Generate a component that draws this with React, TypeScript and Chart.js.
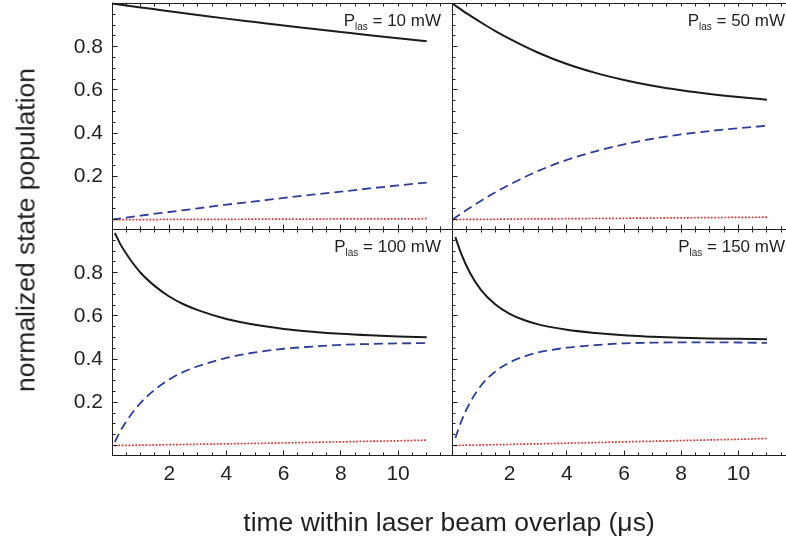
import { useEffect, useRef } from "react";
import { Chart, registerables } from "chart.js";

Chart.register(...registerables);

// Sample times (µs) for the upper and lower rows
const timeTop = [0, 0.5, 1, 1.5, 2, 3, 4, 5, 6, 7, 8, 9, 10, 11];
const timeBottom = [0.1, 0.3, 0.6, 1, 1.5, 2, 2.5, 3, 4, 5, 6, 7, 8, 9, 10, 11];

// P_las = 10 mW
const ground10 = [1.0, 0.991, 0.982, 0.973, 0.964, 0.947, 0.93, 0.914, 0.898, 0.883, 0.868, 0.853, 0.839, 0.825];
const excited10 = [0, 0.009, 0.018, 0.027, 0.035, 0.052, 0.069, 0.084, 0.1, 0.115, 0.129, 0.144, 0.158, 0.171];
const loss10 = [0, 0, 0, 0, 0.001, 0.001, 0.001, 0.002, 0.002, 0.002, 0.003, 0.003, 0.003, 0.004];

// P_las = 50 mW
const ground50 = [1.0, 0.954, 0.912, 0.872, 0.836, 0.772, 0.72, 0.679, 0.646, 0.619, 0.598, 0.581, 0.567, 0.555];
const excited50 = [0, 0.045, 0.087, 0.126, 0.162, 0.225, 0.276, 0.316, 0.348, 0.374, 0.394, 0.41, 0.423, 0.434];
const loss50 = [0, 0.0005, 0.001, 0.0015, 0.002, 0.003, 0.004, 0.005, 0.006, 0.007, 0.008, 0.009, 0.01, 0.011];

// P_las = 100 mW
const ground100 = [0.984, 0.93, 0.868, 0.8, 0.738, 0.69, 0.654, 0.627, 0.586, 0.559, 0.54, 0.527, 0.517, 0.51, 0.505, 0.501];
const excited100 = [0.016, 0.069, 0.131, 0.198, 0.259, 0.306, 0.341, 0.367, 0.406, 0.431, 0.448, 0.458, 0.466, 0.47, 0.473, 0.474];
const loss100 = [0, 0.001, 0.001, 0.002, 0.003, 0.004, 0.005, 0.006, 0.008, 0.01, 0.012, 0.015, 0.017, 0.02, 0.022, 0.025];

// P_las = 150 mW
const ground150 = [0.965, 0.889, 0.802, 0.719, 0.653, 0.61, 0.581, 0.561, 0.536, 0.521, 0.51, 0.504, 0.499, 0.496, 0.494, 0.492];
const excited150 = [0.035, 0.11, 0.196, 0.278, 0.343, 0.385, 0.412, 0.431, 0.453, 0.465, 0.473, 0.476, 0.478, 0.478, 0.477, 0.475];
const loss150 = [0, 0.001, 0.002, 0.003, 0.004, 0.005, 0.007, 0.008, 0.011, 0.014, 0.017, 0.02, 0.023, 0.026, 0.029, 0.033];

const xTickValues = [2, 4, 6, 8, 10];
const yTickValues = [0.2, 0.4, 0.6, 0.8];

const CANVAS_W = 820;
const CANVAS_H = 560;
const Y_MIN = -0.046;
const Y_MAX = 1.0;
const FONT = "'Liberation Sans', Arial, Helvetica, sans-serif";
const INK = "#231f20";

type Panel = {
  power: string;
  t: number[];
  ground: number[];
  excited: number[];
  loss: number[];
  rect: [number, number, number, number]; // left, top, right, bottom of the plot area
  xMax: number;
  yLabels: boolean;
  xLabels: boolean;
};

const panels: Panel[] = [
  { power: "10", t: timeTop, ground: ground10, excited: excited10, loss: loss10, rect: [112, 3.5, 453, 229.5], xMax: 11.92, yLabels: true, xLabels: false },
  { power: "50", t: timeTop, ground: ground50, excited: excited50, loss: loss50, rect: [452.5, 3.5, 797, 229.5], xMax: 12.05, yLabels: false, xLabels: false },
  { power: "100", t: timeBottom, ground: ground100, excited: excited100, loss: loss100, rect: [112, 229.5, 453, 455.5], xMax: 11.92, yLabels: true, xLabels: true },
  { power: "150", t: timeBottom, ground: ground150, excited: excited150, loss: loss150, rect: [452.5, 229.5, 797, 455.5], xMax: 12.05, yLabels: false, xLabels: true },
];

const snap = (v: number) => Math.round(v - 0.5) + 0.5;

const clearScalePadding = (s: any) => {
  s.paddingTop = 0;
  s.paddingBottom = 0;
  s.paddingLeft = 0;
  s.paddingRight = 0;
};

// Frame with inward ticks and the power label in the upper right corner
const framePlugin = {
  id: "panelFrame",
  afterDatasetsDraw(chart: any, _args: any, opts: any) {
    const { ctx, chartArea: a, scales } = chart;
    const xs = scales.x;
    const ys = scales.y;
    const left = snap(a.left);
    const top = snap(a.top);
    const bottom = snap(a.bottom);
    ctx.save();
    ctx.strokeStyle = INK;
    ctx.lineWidth = 1;
    ctx.beginPath();
    ctx.moveTo(left, a.top);
    ctx.lineTo(left, a.bottom);
    ctx.moveTo(a.left, top);
    ctx.lineTo(a.right, top);
    ctx.moveTo(a.left, bottom);
    ctx.lineTo(a.right, bottom);
    for (let i = 0; i / 2 <= xs.max; i++) {
      const px = snap(xs.getPixelForValue(i / 2));
      const len = i % 4 === 0 ? 5 : 3;
      ctx.moveTo(px, top);
      ctx.lineTo(px, top + 3);
      ctx.moveTo(px, bottom);
      ctx.lineTo(px, bottom - len);
    }
    for (let j = 0; j * 0.05 <= ys.max + 1e-9; j++) {
      const py = snap(ys.getPixelForValue(j * 0.05));
      const len = j % 4 === 0 ? 5 : 3;
      ctx.moveTo(left, py);
      ctx.lineTo(left + len, py);
    }
    ctx.stroke();

    // "P_las = N mW"
    const mainFont = `17px ${FONT}`;
    const subFont = `10px ${FONT}`;
    const rest = ` = ${opts.power} mW`;
    ctx.fillStyle = INK;
    ctx.textBaseline = "alphabetic";
    ctx.textAlign = "left";
    ctx.font = mainFont;
    const wP = ctx.measureText("P").width;
    const wRest = ctx.measureText(rest).width;
    ctx.font = subFont;
    const wSub = ctx.measureText("las").width;
    const baseline = a.top + 22;
    let x = a.right - 12 - (wP + wSub + wRest);
    ctx.font = mainFont;
    ctx.fillText("P", x, baseline);
    x += wP;
    ctx.font = subFont;
    ctx.fillText("las", x, baseline + 4);
    x += wSub;
    ctx.font = mainFont;
    ctx.fillText(rest, x, baseline);
    ctx.restore();
  },
};

function PanelChart({ panel }: { panel: Panel }) {
  const ref = useRef<HTMLCanvasElement | null>(null);

  useEffect(() => {
    if (!ref.current) return;
    const [L, T, R, B] = panel.rect;
    const pts = (ys: number[]) => panel.t.map((x, i) => ({ x, y: ys[i] }));
    const chart = new Chart(ref.current, {
      type: "line",
      data: {
        datasets: [
          {
            data: pts(panel.ground),
            borderColor: "#1b1b1b",
            borderWidth: 2,
            pointRadius: 0,
            cubicInterpolationMode: "monotone",
            clip: false as any,
          },
          {
            data: pts(panel.excited),
            borderColor: "#2e3c9a",
            borderWidth: 1.8,
            borderDash: [9, 5],
            pointRadius: 0,
            cubicInterpolationMode: "monotone",
            clip: false as any,
          },
          {
            data: pts(panel.loss),
            borderColor: "#ec2a2a",
            borderWidth: 1.7,
            borderDash: [1.7, 1.7],
            pointRadius: 0,
            cubicInterpolationMode: "monotone",
            clip: false as any,
          },
        ],
      },
      options: {
        responsive: false,
        animation: false,
        devicePixelRatio: 1,
        events: [],
        layout: {
          autoPadding: false,
          padding: { left: 0, top: T, right: CANVAS_W - R, bottom: 0 },
        },
        plugins: {
          legend: { display: false },
          tooltip: { enabled: false },
          panelFrame: { power: panel.power },
        } as any,
        scales: {
          x: {
            type: "linear",
            position: "bottom",
            min: 0,
            max: panel.xMax,
            grid: { display: false, drawTicks: false },
            border: { display: false },
            ticks: {
              display: panel.xLabels,
              padding: 6,
              autoSkip: false,
              maxRotation: 0,
              color: INK,
              font: { family: FONT, size: 21 },
              callback: (v: any) => String(v),
            },
            afterBuildTicks: (s: any) => {
              s.ticks = xTickValues.map((value) => ({ value }));
            },
            afterFit: (s: any) => {
              s.height = CANVAS_H - B;
              clearScalePadding(s);
            },
          },
          y: {
            type: "linear",
            position: "left",
            min: Y_MIN,
            max: Y_MAX,
            grid: { display: false, drawTicks: false },
            border: { display: false },
            ticks: {
              display: panel.yLabels,
              padding: 9,
              autoSkip: false,
              color: INK,
              font: { family: FONT, size: 21 },
              callback: (v: any) => String(v),
            },
            afterBuildTicks: (s: any) => {
              s.ticks = yTickValues.map((value) => ({ value }));
            },
            afterFit: (s: any) => {
              s.width = L;
              clearScalePadding(s);
            },
          },
        },
      },
      plugins: [framePlugin as any],
    });
    return () => chart.destroy();
  }, [panel]);

  return (
    <canvas
      ref={ref}
      width={CANVAS_W}
      height={CANVAS_H}
      style={{ position: "absolute", left: 0, top: 0 }}
    />
  );
}

export default function App() {
  return (
    <div
      style={{
        position: "fixed",
        left: 0,
        top: 0,
        width: 786,
        height: 547,
        overflow: "hidden",
        background: "#ffffff",
      }}
    >
      {panels.map((p) => (
        <PanelChart key={p.power} panel={p} />
      ))}
      <div
        style={{
          position: "absolute",
          left: 26,
          top: 230,
          transform: "translate(-50%, -50%) rotate(-90deg)",
          whiteSpace: "nowrap",
          fontFamily: FONT,
          fontSize: 26.5,
          color: INK,
        }}
      >
        normalized state population
      </div>
      <div
        style={{
          position: "absolute",
          left: 449,
          top: 522,
          transform: "translate(-50%, -50%)",
          whiteSpace: "nowrap",
          fontFamily: FONT,
          fontSize: 26.5,
          color: INK,
        }}
      >
        time within laser beam overlap (μs)
      </div>
    </div>
  );
}
